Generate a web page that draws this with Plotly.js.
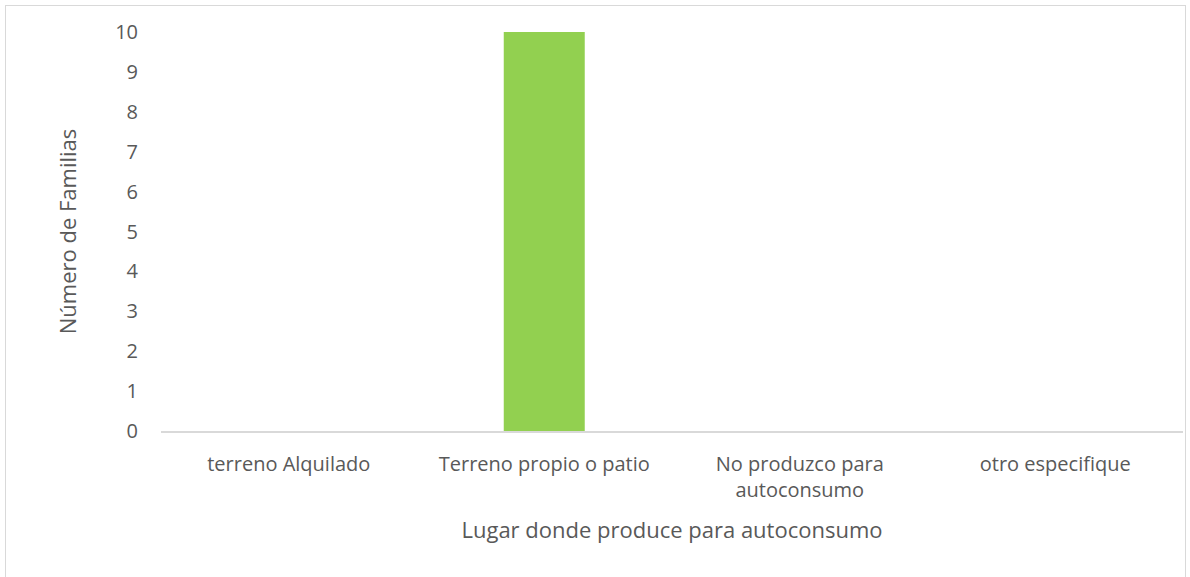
<!DOCTYPE html>
<html>
<head>
<meta charset="utf-8">
<script src="https://cdn.plot.ly/plotly-3.0.1.min.js"></script>
<style>
html,body{margin:0;padding:0;background:#fff;overflow:hidden;}
#wrap{position:relative;width:1190px;height:577px;}
#frame{position:absolute;left:5px;top:5px;width:1181px;height:600px;border:1.5px solid #d9d9d9;box-sizing:border-box;}
#chart{position:absolute;left:0;top:0;width:1190px;height:577px;}
</style>
</head>
<body>
<div id="wrap">
<div id="frame"></div>
<div id="chart"></div>
</div>
<script>
const categories = ["terreno Alquilado", "Terreno propio o patio", "No produzco para<br>autoconsumo", "otro especifique"];
const values = [0, 10, 0, 0];
const yTicks = [0,1,2,3,4,5,6,7,8,9,10];
const xTitle = "Lugar donde produce para autoconsumo";
const yTitle = "Número de Familias";
const cutText = "propio,";

const font = "'Open Sans', 'Noto Sans', sans-serif";
const data = [{
  type: "bar",
  x: categories,
  y: values,
  marker: {color: "#92d050"},
  hoverinfo: "x+y"
}];
const layout = {
  width: 1190, height: 577,
  margin: {l: 161, r: 7, t: 32, b: 146, pad: 0},
  paper_bgcolor: "rgba(0,0,0,0)",
  plot_bgcolor: "rgba(0,0,0,0)",
  bargap: 0.683,
  showlegend: false,
  font: {family: font, size: 20, color: "#595959"},
  xaxis: {
    type: "category",
    showline: true, linecolor: "#d9d9d9", linewidth: 1.5,
    showgrid: false, zeroline: false,
    ticks: "", ticklabelstandoff: 14,
    tickfont: {size: 20, color: "#595959"},
    title: {text: xTitle, font: {size: 22, color: "#595959"}, standoff: 21}
  },
  yaxis: {
    range: [0, 10],
    tickvals: yTicks,
    showline: false, showgrid: false, zeroline: false,
    ticks: "", ticklabelstandoff: 22,
    tickfont: {size: 20, color: "#595959"},
    title: {text: yTitle, font: {size: 22, color: "#595959"}, standoff: 32}
  },
  annotations: [{
    text: cutText, xref: "paper", yref: "paper",
    x: 0.1067, y: 1, xanchor: "left", yanchor: "bottom",
    yshift: 30, showarrow: false, borderpad: 0,
    font: {family: font, size: 28, color: "#000000"}
  }]
};
Plotly.newPlot("chart", data, layout, {displayModeBar: false, staticPlot: true});
</script>
</body>
</html>
